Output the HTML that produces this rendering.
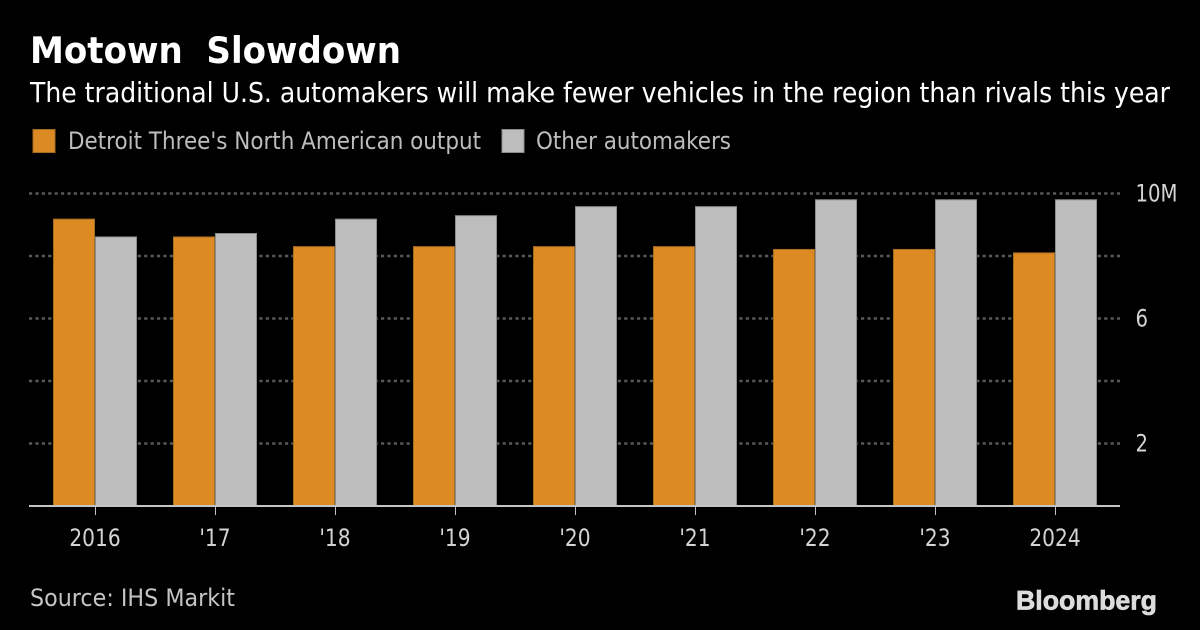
<!DOCTYPE html>
<html>
<head>
<meta charset="utf-8">
<style>
html,body{margin:0;padding:0;background:#000;}
svg{display:block;}
text{font-family:"DejaVu Sans","Liberation Sans",sans-serif;}
</style>
</head>
<body>
<svg id="chart" width="1200" height="630" viewBox="0 0 1200 630" xmlns="http://www.w3.org/2000/svg">
<rect x="0" y="0" width="1200" height="630" fill="#000"/>
<text x="30" y="63" font-size="36.5" font-weight="700" fill="#fff" textLength="371" lengthAdjust="spacingAndGlyphs">Motown&#160;&#160;Slowdown</text>
<text x="30" y="102" font-size="27.5" fill="#fff" textLength="1140" lengthAdjust="spacingAndGlyphs">The traditional U.S. automakers will make fewer vehicles in the region than rivals this year</text>
<rect x="33" y="129.5" width="22" height="23" fill="#dc8a24" stroke="#a66c22" stroke-width="1"/>
<text x="68" y="149" font-size="24" fill="#bdbdbd" textLength="413" lengthAdjust="spacingAndGlyphs">Detroit Three's North American output</text>
<rect x="502" y="129.5" width="22" height="23" fill="#bdbdbd" stroke="#8c8c8c" stroke-width="1"/>
<text x="536" y="149" font-size="24" fill="#bdbdbd" textLength="195" lengthAdjust="spacingAndGlyphs">Other automakers</text>
<g id="grid"></g>
<g id="bars"></g>
<g id="axes"></g>
<text x="30" y="606" font-size="24" fill="#c4c4c4" textLength="205" lengthAdjust="spacingAndGlyphs">Source: IHS Markit</text>
<text x="1016" y="609.5" font-size="26.5" font-weight="700" fill="#dcdcdc" stroke="#dcdcdc" stroke-width="0.7" style="font-family:'Liberation Sans',sans-serif" textLength="141" lengthAdjust="spacingAndGlyphs">Bloomberg</text>
</svg>
<script>
var categories = ["2016", "'17", "'18", "'19", "'20", "'21", "'22", "'23", "2024"];
var detroitThree = [9.18, 8.61, 8.3, 8.3, 8.3, 8.3, 8.21, 8.21, 8.1];
var otherAutomakers = [8.61, 8.72, 9.18, 9.29, 9.58, 9.58, 9.8, 9.8, 9.8];
var gridValues = [2, 4, 6, 8, 10];
var yTickValues = [2, 6, 10];
var yTickLabels = ["2", "6", "10M"];

var NS = 'http://www.w3.org/2000/svg';
var yBase = 506, yUnit = 31.25;
var xFirst = 95, xStep = 120, barWidth = 42;
var xLeft = 29, xRight = 1120;

function yScale(v) { return yBase - v * yUnit; }
function xScale(i) { return xFirst + i * xStep; }
function make(tag, parent, attrs) {
  var el = document.createElementNS(NS, tag);
  for (var k in attrs) { el.setAttribute(k, attrs[k]); }
  parent.appendChild(el);
  return el;
}

var gridGroup = document.getElementById('grid');
var barGroup = document.getElementById('bars');
var axisGroup = document.getElementById('axes');

gridValues.forEach(function (v) {
  var line = make('line', gridGroup, {
    x1: xLeft, x2: xRight, y1: yScale(v), y2: yScale(v),
    stroke: '#585858', 'stroke-width': 2.5, 'stroke-dasharray': '3.2 3.2'
  });
  
  
});

categories.forEach(function (c, i) {
  var x = xScale(i);
  var a = make('rect', barGroup, {
    x: x - barWidth + 0.5, y: yScale(detroitThree[i]),
    width: barWidth - 1, height: yBase - yScale(detroitThree[i]),
    fill: '#dc8a24', stroke: '#a66c22', 'stroke-width': 1
  });
  
  
  var b = make('rect', barGroup, {
    x: x + 0.5, y: yScale(otherAutomakers[i]),
    width: barWidth - 1, height: yBase - yScale(otherAutomakers[i]),
    fill: '#bdbdbd', stroke: '#8c8c8c', 'stroke-width': 1
  });
  
  
});

var baseline = make('line', axisGroup, {
  x1: xLeft, x2: xRight, y1: yBase, y2: yBase, stroke: '#c4c4c4', 'stroke-width': 2
});



categories.forEach(function (c, i) {
  var x = xScale(i);
  var tick = make('line', axisGroup, {
    x1: x + 0.5, x2: x + 0.5, y1: yBase, y2: yBase + 9, stroke: '#c4c4c4', 'stroke-width': 1
  });
  
  
  var label = make('text', axisGroup, {
    x: x, y: 546, 'font-size': 24, fill: '#d4d4d4', 'text-anchor': 'middle', 'lengthAdjust': 'spacingAndGlyphs'
  });
  
  
  label.textContent = c;
  label.setAttribute('textLength', label.getComputedTextLength() * 0.84);
});

yTickValues.forEach(function (v, i) {
  var label = make('text', axisGroup, {
    x: 1135.5, y: yScale(v) + 8, 'font-size': 24, fill: '#d4d4d4', 'lengthAdjust': 'spacingAndGlyphs'
  });
  
  
  label.textContent = yTickLabels[i];
  label.setAttribute('textLength', label.getComputedTextLength() * 0.82);
});
</script>
</body>
</html>
